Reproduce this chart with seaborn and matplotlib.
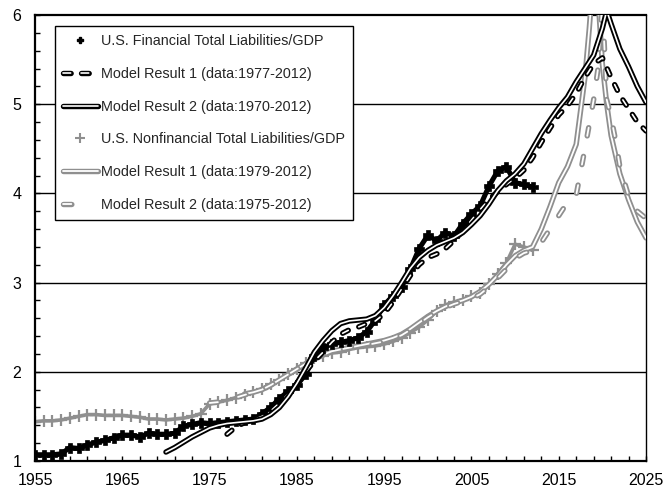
import matplotlib
matplotlib.use('Agg')
import matplotlib.pyplot as plt
import matplotlib.patheffects as pe
from matplotlib.lines import Line2D
from matplotlib.ticker import MultipleLocator, FixedLocator
import seaborn as sns

# Data
years = list(range(1955, 2013))
fin_liab = [1.07, 1.07, 1.07, 1.08, 1.15, 1.14, 1.18, 1.21, 1.23, 1.26,
            1.29, 1.29, 1.27, 1.31, 1.30, 1.30, 1.31, 1.39, 1.41, 1.43,
            1.42, 1.43, 1.44, 1.45, 1.46, 1.47, 1.53, 1.60, 1.70, 1.78,
            1.85, 1.97, 2.18, 2.27, 2.31, 2.33, 2.35, 2.38, 2.45, 2.58,
            2.75, 2.85, 2.95, 3.15, 3.38, 3.53, 3.47, 3.56, 3.52, 3.66,
            3.77, 3.86, 4.08, 4.25, 4.30, 4.12, 4.10, 4.07]
nonfin_liab = [1.44, 1.45, 1.45, 1.46, 1.48, 1.50, 1.52, 1.52, 1.51, 1.51,
               1.51, 1.50, 1.49, 1.47, 1.47, 1.46, 1.47, 1.48, 1.50, 1.53,
               1.64, 1.66, 1.68, 1.71, 1.74, 1.77, 1.81, 1.86, 1.91, 1.97,
               2.03, 2.10, 2.15, 2.18, 2.21, 2.22, 2.25, 2.27, 2.28, 2.29,
               2.31, 2.34, 2.38, 2.44, 2.50, 2.58, 2.68, 2.75, 2.78, 2.81,
               2.85, 2.88, 2.98, 3.10, 3.22, 3.43, 3.40, 3.36]

fin_m1_years = list(range(1977, 2026))
fin_m1 = [1.30, 1.38, 1.43, 1.46, 1.50, 1.56, 1.65, 1.75, 1.87, 2.00,
          2.12, 2.22, 2.33, 2.42, 2.47, 2.50, 2.54, 2.57, 2.65, 2.78,
          2.93, 3.08, 3.20, 3.28, 3.32, 3.38, 3.47, 3.58, 3.70, 3.82,
          3.93, 4.02, 4.10, 4.17, 4.26, 4.40, 4.57, 4.73, 4.88, 4.98,
          5.12, 5.30, 5.45, 5.52, 5.30, 5.10, 4.95, 4.80, 4.70]

fin_m2_years = list(range(1970, 2021)) + [2020.5, 2021, 2022, 2023, 2024, 2025]
fin_m2 = [1.10, 1.15, 1.21, 1.27, 1.32, 1.37, 1.40, 1.42, 1.43, 1.44,
          1.45, 1.47, 1.52, 1.60, 1.72, 1.87, 2.04, 2.22, 2.35, 2.46,
          2.54, 2.57, 2.58, 2.59, 2.63, 2.72, 2.85, 3.00, 3.16, 3.28,
          3.36, 3.42, 3.46, 3.50, 3.56, 3.65, 3.75, 3.88, 4.03, 4.14,
          4.22, 4.33, 4.50, 4.67, 4.82, 4.96, 5.08, 5.25, 5.40, 5.55,
          5.85, 6.05, 5.90, 5.62, 5.42, 5.20, 5.02]

nonfin_m1_years = list(range(1979, 2019)) + [2018.5, 2019, 2019.5, 2020, 2020.5,
                                              2021, 2022, 2023, 2024, 2025]
nonfin_m1 = [1.75, 1.77, 1.80, 1.85, 1.91, 1.97, 2.03, 2.09, 2.14, 2.19,
             2.23, 2.25, 2.27, 2.29, 2.31, 2.33, 2.35, 2.38, 2.42, 2.48,
             2.55, 2.62, 2.68, 2.73, 2.77, 2.80, 2.84, 2.90, 2.98, 3.08,
             3.20, 3.30, 3.36, 3.40, 3.60, 3.85, 4.12, 4.30, 4.55, 5.30,
             5.85, 6.50, 6.20, 5.45, 5.00, 4.65, 4.22, 3.93, 3.68, 3.50]

nonfin_m2_years = list(range(1975, 2019)) + [2019, 2019.5, 2020, 2020.5, 2021,
                                              2021.5, 2022, 2023, 2024, 2025]
nonfin_m2 = [1.65, 1.66, 1.68, 1.71, 1.74, 1.77, 1.80, 1.85, 1.91, 1.97,
             2.03, 2.09, 2.14, 2.19, 2.23, 2.25, 2.27, 2.29, 2.30, 2.32,
             2.34, 2.37, 2.41, 2.47, 2.54, 2.61, 2.67, 2.72, 2.76, 2.79,
             2.82, 2.87, 2.95, 3.05, 3.15, 3.27, 3.33, 3.36, 3.45, 3.60,
             3.75, 3.90, 3.98, 4.50, 5.05, 5.40, 6.15, 5.05, 4.85, 4.60,
             4.30, 3.97, 3.80, 3.72]

x_ticks = list(range(1955, 2026, 10))

labels = ['U.S. Financial Total Liabilities/GDP',
          'Model Result 1 (data:1977-2012)',
          'Model Result 2 (data:1970-2012)',
          'U.S. Nonfinancial Total Liabilities/GDP',
          'Model Result 1 (data:1979-2012)',
          'Model Result 2 (data:1975-2012)']

sns.set_style('white')
plt.rcParams['font.family'] = ['Liberation Sans', 'DejaVu Sans']
plt.rcParams['lines.scale_dashes'] = False

black = '#000000'
gray = '#8f8f8f'

fig, ax = plt.subplots(figsize=(6.66, 4.93), dpi=100)
fig.subplots_adjust(left=0.0526, right=0.970, bottom=0.065, top=0.9696)

# horizontale gitterlinjer
for yv in [2, 3, 4, 5]:
    ax.axhline(yv, color=black, lw=1.0, zorder=0.5)


def outlined(color, outer=3.9):
    return [pe.Stroke(linewidth=outer, foreground=color), pe.Normal()]


# nonfinancial data (gray)
sns.lineplot(x=years, y=nonfin_liab, ax=ax, color=gray, lw=2.6,
             marker='+', markersize=9, markeredgewidth=1.6,
             markeredgecolor=gray, zorder=2)
# gray models
sns.lineplot(x=nonfin_m1_years, y=nonfin_m1, ax=ax, color='white', lw=1.3,
             path_effects=outlined(gray), solid_capstyle='round', zorder=3)
sns.lineplot(x=nonfin_m2_years, y=nonfin_m2, ax=ax, color='white', lw=1.3,
             linestyle=(0, (6, 15)), dash_capstyle='round',
             path_effects=outlined(gray), zorder=3)

# financial data (black)
sns.lineplot(x=years, y=fin_liab, ax=ax, color=black, lw=3.6,
             marker='P', markersize=7, markeredgewidth=0.5,
             markeredgecolor=black, markerfacecolor=black, zorder=4)
# black models
sns.lineplot(x=fin_m1_years, y=fin_m1, ax=ax, color='white', lw=1.2,
             linestyle=(0, (4.5, 8)), dash_capstyle='round',
             path_effects=outlined(black), zorder=5)
sns.lineplot(x=fin_m2_years, y=fin_m2, ax=ax, color='white', lw=1.2,
             solid_capstyle='round', path_effects=outlined(black), zorder=5)

ax.set_xlim(1955, 2025)
ax.set_ylim(1, 6)
ax.xaxis.set_major_locator(FixedLocator(x_ticks))
ax.xaxis.set_minor_locator(FixedLocator(list(range(1955, 2026, 2))))
ax.yaxis.set_major_locator(MultipleLocator(1))
ax.yaxis.set_minor_locator(MultipleLocator(0.2))
ax.tick_params(which='both', direction='in', length=3.6, width=1, colors=black,
               bottom=True, left=True, top=False, right=False)
ax.tick_params(axis='x', labelsize=11.5, pad=9)
ax.tick_params(axis='y', labelsize=11.5, pad=10)
ax.set_xlabel('')
ax.set_ylabel('')
for side, sp in ax.spines.items():
    sp.set_color(black)
    sp.set_linewidth(1.0 if side == 'right' else 1.6)

# legend proxies
fin_h = Line2D([], [], color=black, marker='P', markersize=5, linestyle='none')
bm1_h = Line2D([], [], color='white', lw=1.2, linestyle=(0, (5.5, 7.5)),
               dash_capstyle='round', path_effects=outlined(black))
bm2_h = Line2D([], [], color='white', lw=1.2, solid_capstyle='round',
               path_effects=outlined(black))
nonfin_h = Line2D([], [], color=gray, marker='+', markersize=7,
                  markeredgewidth=1.5, linestyle='none')
gm1_h = Line2D([], [], color='white', lw=1.3, solid_capstyle='round',
               path_effects=outlined(gray))
gm2_h = Line2D([], [], color='white', lw=1.3, linestyle=(0, (6, 30)),
               dash_capstyle='round', path_effects=outlined(gray))
leg = ax.legend([fin_h, bm1_h, bm2_h, nonfin_h, gm1_h, gm2_h], labels,
                loc='upper left', bbox_to_anchor=(0.0327, 0.975),
                borderaxespad=0, fontsize=10.4, frameon=True, fancybox=False,
                edgecolor=black, framealpha=1, labelspacing=1.3,
                borderpad=0.55, handlelength=2.4, handletextpad=0.25)
leg.get_frame().set_linewidth(1.0)
leg.set_zorder(10)

plt.savefig('out.png', dpi=100)
